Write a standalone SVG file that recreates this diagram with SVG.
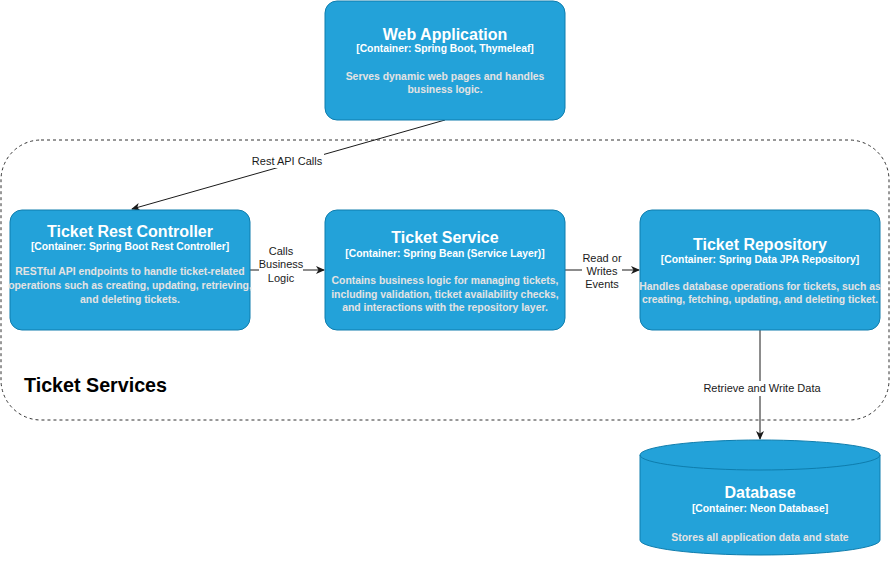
<svg xmlns="http://www.w3.org/2000/svg" width="891" height="561" viewBox="0 0 891 561">
<style>
.box{fill:#23A2D9;stroke:#0E7DAD;stroke-width:1}
.t{font-family:"Liberation Sans",Arial,sans-serif;font-weight:bold;fill:#ffffff;text-anchor:middle}
.ti{font-size:16px}
.te{font-size:10.35px}
.d{font-size:10.4px;fill:#E3E3E3}
.lbl{font-family:"Liberation Sans",Arial,sans-serif;font-size:11px;fill:#1a1a1a;text-anchor:middle}
.edge{stroke:#1a1a1a;stroke-width:1;fill:none}
</style>
<defs>
<marker id="arr" markerWidth="10" markerHeight="10" refX="8" refY="4" orient="auto" markerUnits="userSpaceOnUse">
<path d="M0,0 L9,4 L0,8 L2.5,4 Z" fill="#1a1a1a"/>
</marker>
</defs>
<rect width="891" height="561" fill="#ffffff"/>
<g id="boundary">
<rect x="1" y="140" width="888" height="280" rx="40" ry="40" fill="none" stroke="#333333" stroke-dasharray="3,3"/>
<text x="24" y="392" font-family="Liberation Sans,Arial,sans-serif" font-weight="bold" font-size="19.7" fill="#000000">Ticket Services</text>
</g>
<g id="connectors">
<line class="edge" x1="445" y1="120" x2="132" y2="209" marker-end="url(#arr)"/>
<rect x="250" y="153" width="74" height="15" fill="#ffffff"/>
<text class="lbl" x="287" y="165">Rest API Calls</text>
<line class="edge" x1="250" y1="270" x2="324" y2="270" marker-end="url(#arr)"/>
<rect x="259" y="244" width="44" height="42" fill="#ffffff"/>
<text class="lbl" x="281" y="255">Calls</text>
<text class="lbl" x="281" y="268">Business</text>
<text class="lbl" x="281" y="282">Logic</text>
<line class="edge" x1="565" y1="270" x2="639" y2="270" marker-end="url(#arr)"/>
<rect x="582" y="250" width="40" height="40" fill="#ffffff"/>
<text class="lbl" x="602" y="262">Read or</text>
<text class="lbl" x="602" y="275">Writes</text>
<text class="lbl" x="602" y="288">Events</text>
<line class="edge" x1="760" y1="330" x2="760" y2="439" marker-end="url(#arr)"/>
<rect x="703" y="381" width="118" height="15" fill="#ffffff"/>
<text class="lbl" x="762" y="392">Retrieve and Write Data</text>
</g>
<g id="web-application">
<rect class="box" x="325" y="1" width="240" height="119" rx="12" ry="12"/>
<text class="t ti" x="445" y="40">Web Application</text>
<text class="t te" x="445" y="52">[Container: Spring Boot, Thymeleaf]</text>
<text class="t d" x="445" y="80">Serves dynamic web pages and handles</text>
<text class="t d" x="445" y="93">business logic.</text>
</g>
<g id="ticket-rest-controller">
<rect class="box" x="10" y="210" width="240" height="120" rx="12" ry="12"/>
<text class="t ti" x="130" y="237">Ticket Rest Controller</text>
<text class="t te" x="130" y="250">[Container: Spring Boot Rest Controller]</text>
<text class="t d" x="130" y="275">RESTful API endpoints to handle ticket-related</text>
<text class="t d" x="130" y="289">operations such as creating, updating, retrieving,</text>
<text class="t d" x="130" y="303">and deleting tickets.</text>
</g>
<g id="ticket-service">
<rect class="box" x="325" y="210" width="240" height="120" rx="12" ry="12"/>
<text class="t ti" x="445" y="243">Ticket Service</text>
<text class="t te" x="445" y="257">[Container: Spring Bean (Service Layer)]</text>
<text class="t d" x="445" y="284">Contains business logic for managing tickets,</text>
<text class="t d" x="445" y="298">including validation, ticket availability checks,</text>
<text class="t d" x="445" y="311">and interactions with the repository layer.</text>
</g>
<g id="ticket-repository">
<rect class="box" x="640" y="210" width="240" height="120" rx="12" ry="12"/>
<text class="t ti" x="760" y="250">Ticket Repository</text>
<text class="t te" x="760" y="263">[Container: Spring Data JPA Repository]</text>
<text class="t d" x="760" y="290">Handles database operations for tickets, such as</text>
<text class="t d" x="760" y="303">creating, fetching, updating, and deleting ticket.</text>
</g>
<g id="database">
<path class="box" d="M640,455 A120,15 0 0 1 880,455 L880,540 A120,15 0 0 1 640,540 Z"/>
<path d="M640,455 A120,15 0 0 0 880,455" fill="none" stroke="#0E7DAD"/>
<text class="t ti" x="760" y="498">Database</text>
<text class="t te" x="760" y="512">[Container: Neon Database]</text>
<text class="t d" x="760" y="541">Stores all application data and state</text>
</g>
</svg>
